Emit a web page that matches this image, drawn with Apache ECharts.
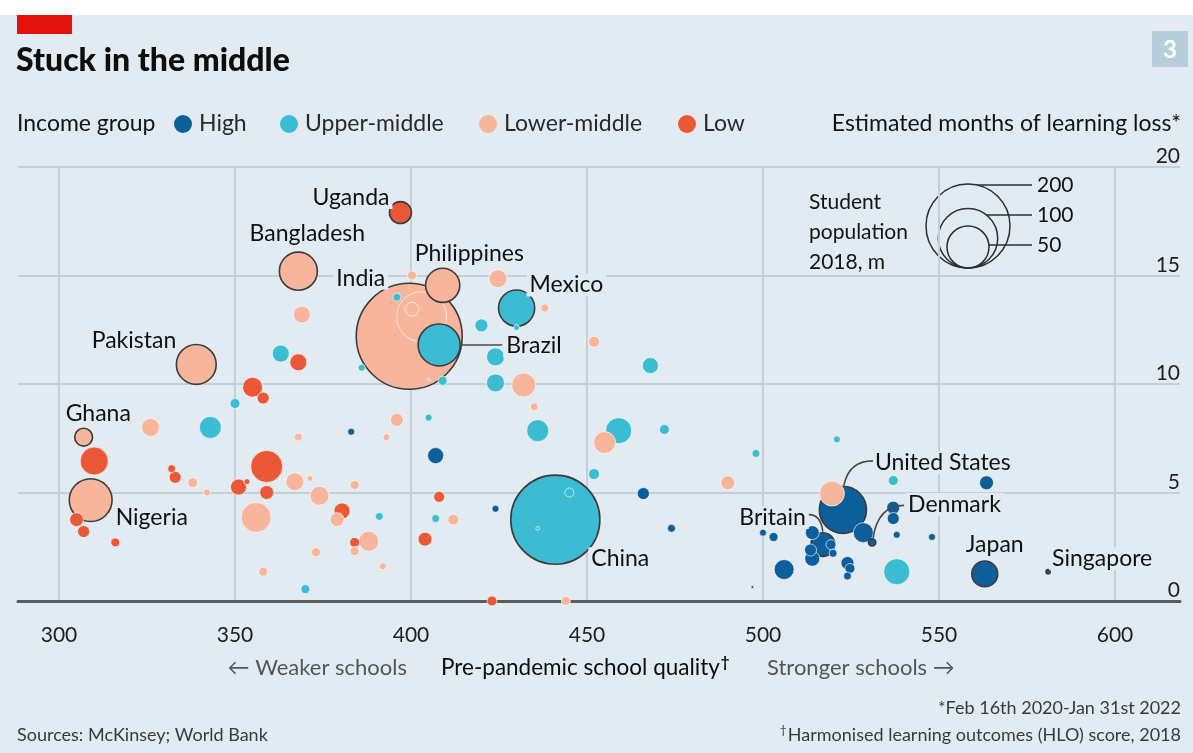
<!DOCTYPE html>
<html><head><meta charset="utf-8">
<script src="https://cdn.jsdelivr.net/npm/echarts@6/dist/echarts.min.js"></script>
<style>html,body{margin:0;padding:0;background:#e2ebf2}#c{width:1193px;height:753px}</style>
</head><body><div id="c"></div>
<script>
const FONT = 'Lato, "Noto Sans", sans-serif';
const groupNames = ['High', 'Upper-middle', 'Lower-middle', 'Low'];
const groupColors = ['#0d5f9c', '#3cbcd2', '#f7b59b', '#ea5838'];
// [HLO score, estimated months of learning loss, student population 2018 (m), label]
const highIncome = [
  [522.7, 4.2, 63, 'United States'], [517, 2.6, 16, 'Britain'], [531, 2.7, 1.5, 'Denmark'],
  [563, 1.25, 19, 'Japan'], [581, 1.35, 0.5, 'Singapore'],
  [383, 7.8, 1.4], [407, 6.7, 7.3], [424, 4.25, 1.4], [466, 4.95, 4.1], [474, 3.35, 1.8],
  [500, 3.15, 1.4], [503, 2.95, 2.3], [506, 1.45, 11.3], [514, 3.15, 5.5], [513.5, 2.35, 4.1],
  [519.3, 2.6, 2.8], [519.9, 2.2, 1.8], [514, 1.95, 6.4], [524, 1.75, 4.8], [524.7, 1.5, 2.8],
  [524, 1.15, 1.8], [528.5, 3.15, 11.3], [537, 4.3, 4.8], [537, 3.8, 4.1], [538, 3.05, 1.4],
  [548, 2.95, 1.4], [563.5, 5.45, 5.5], [497, 0.65, 0.2]
];
const upperMiddle = [
  [408, 11.8, 50, 'Brazil'], [430, 13.5, 37, 'Mexico'], [441, 3.75, 225, 'China'],
  [396, 14.0, 1.8], [363, 11.4, 8.2], [350, 9.1, 2.8], [343, 8.0, 13.7], [386, 10.75, 1.4],
  [409, 10.15, 2.3], [405, 8.45, 1.4], [420, 12.7, 4.8], [430, 12.6, 1.0], [424, 11.25, 9.2],
  [424, 10.05, 9.2], [468, 10.85, 7.3], [436, 7.85, 13.7], [459, 7.85, 19.2], [472, 7.9, 2.8],
  [452, 5.85, 3.4], [498, 6.8, 1.8], [521, 7.45, 1.4], [537, 5.55, 2.8], [538, 1.35, 19.2],
  [391, 3.9, 1.8], [407, 3.8, 1.8], [370, 0.55, 2.3], [445, 5.0, 2.3], [436, 3.35, 0.4]
];
const lowerMiddle = [
  [399.5, 12.2, 318, 'India'], [368, 15.2, 41, 'Bangladesh'], [409, 14.55, 33, 'Philippines'],
  [339, 10.9, 45, 'Pakistan'], [307, 7.55, 9, 'Ghana'], [309, 4.65, 52, 'Nigeria'],
  [403, 13.1, 71], [400.3, 13.45, 5.5], [405, 10.2, 0.3], [369, 13.2, 8.2], [400.3, 15.0, 2.3],
  [424.7, 14.85, 9.2], [438, 13.5, 1.8], [452, 11.95, 3.4], [432, 9.95, 16.3], [435, 8.95, 1.8],
  [455, 7.3, 13.7], [490, 5.45, 5.5], [519.6, 4.95, 17.7], [326, 8.0, 9.2], [338, 5.45, 2.8],
  [342, 5.0, 1.4], [368, 7.55, 1.8], [367, 5.5, 9.2], [371.3, 5.65, 1.0], [374, 4.85, 10.2],
  [384, 5.35, 2.3], [379, 3.75, 5.5], [396, 8.35, 4.8], [393, 7.55, 1.4], [356, 3.85, 25.5],
  [412, 3.75, 3.4], [388, 2.75, 11.3], [384, 2.3, 2.3], [373, 2.25, 2.3], [392, 1.6, 1.4],
  [358, 1.35, 2.3], [444, 0, 2.3]
];
const lowIncome = [
  [397, 17.9, 13.7, 'Uganda'], [368, 11.0, 8.2], [355, 9.85, 11.3], [358, 9.35, 4.1],
  [310, 6.45, 22.2], [332, 6.1, 1.8], [333, 5.7, 4.1], [359, 6.2, 29], [351, 5.25, 7.3],
  [353.4, 5.5, 1.0], [359, 5.0, 5.5], [380.4, 4.15, 7.3], [408, 4.8, 3.4], [384, 2.7, 2.8],
  [404, 2.85, 5.5], [305, 3.75, 5.5], [307, 3.2, 4.1], [316, 2.7, 2.3], [423, 0, 2.8]
];
const xTicks = { min: 300, max: 600, step: 50 };
const yTicks = { min: 0, max: 20, step: 5 };
const sizeLegendValues = [200, 100, 50];

// label placement (pixels relative to bubble centre)
const labelPlacement = {
  'Uganda': { align: 'right', offset: [-8, -15] },
  'Bangladesh': { align: 'center', offset: [9, -38] },
  'India': { align: 'right', offset: [-21, -58] },
  'Philippines': { align: 'left', offset: [-31, -32] },
  'Mexico': { align: 'left', offset: [10, -23] },
  'Brazil': { align: 'left', offset: [64, 1] },
  'Pakistan': { align: 'right', offset: [-17, -24] },
  'Ghana': { align: 'left', offset: [-21, -24] },
  'Nigeria': { align: 'left', offset: [22, 17] },
  'China': { align: 'left', offset: [33, 39] },
  'United States': { align: 'left', offset: [29, -47] },
  'Denmark': { align: 'left', offset: [33, -38] },
  'Britain': { align: 'right', offset: [-14, -27] },
  'Japan': { align: 'center', offset: [10, -29] },
  'Singapore': { align: 'left', offset: [1, -13] }
};

const BG = '#e2ebf2';
const GRID = '#c5cfd8';
const sizeOf = p => Math.max(3, 5.94 * Math.sqrt(p));

const sets = [highIncome, upperMiddle, lowerMiddle, lowIncome];
const all = [];
sets.forEach((s, gi) => s.forEach(d => all.push({ v: [d[0], d[1], d[2]], name: d[3] || '', g: gi })));
all.sort((a, b) => b.v[2] - a.v[2]);
const seriesData = all.map(d => {
  const labeled = !!d.name;
  const item = {
    name: d.name, value: d.v,
    itemStyle: {
      color: groupColors[d.g], opacity: 1,
      borderColor: labeled ? '#3c3c3c' : 'rgba(255,255,255,0.8)',
      borderWidth: labeled ? 1.6 : 0.8
    }
  };
  if (labeled) {
    const p = labelPlacement[d.name];
    item.label = {
      show: true, position: 'inside', formatter: '{b}', align: p.align, verticalAlign: 'middle',
      offset: p.offset, fontFamily: FONT, fontSize: 23, color: '#111111',
      backgroundColor: BG, padding: [0, 3]
    };
  }
  return item;
});

const chart = echarts.init(document.getElementById('c'), null, { renderer: 'canvas' });

function txt(text, x, y, opts) {
  return {
    type: 'text', x: x, y: y,
    style: Object.assign({ text: text, fontFamily: FONT, fontSize: 22, fill: '#141414',
      textAlign: 'left', textVerticalAlign: 'middle', align: 'left', verticalAlign: 'middle' }, opts || {})
  };
}

const graphics = [
  { type: 'rect', shape: { x: 0, y: 0, width: 1193, height: 15 }, style: { fill: '#ffffff' }, z: -10 },
  { type: 'rect', shape: { x: 17, y: 15, width: 55, height: 19 }, style: { fill: '#e3120b' } },
  txt('Stuck in the middle', 16, 61, { fontSize: 32, fontWeight: 900, fill: '#0d0d0d' }),
  { type: 'rect', shape: { x: 1152, y: 31, width: 36, height: 36 }, style: { fill: '#b6cddb' } },
  txt('3', 1170, 50, { fontSize: 24, fontWeight: 'bold', fill: '#ffffff', textAlign: 'center', align: 'center' }),
  txt('Income group', 17, 124, { fontSize: 23 }),
  txt('Estimated months of learning loss*', 1181, 124, { fontSize: 23, textAlign: 'right', align: 'right' })
];
const legendPos = [183, 289, 488, 687];
groupNames.forEach((g, i) => {
  graphics.push({ type: 'circle', shape: { cx: legendPos[i], cy: 124, r: 9 }, style: { fill: groupColors[i] } });
  graphics.push(txt(g, legendPos[i] + 16, 124, { fontSize: 23, fill: '#2a2a2a' }));
});
// size legend
const slCx = 968, slBottom = 268;
const slLabelY = [185, 215, 245];
sizeLegendValues.forEach((v, i) => {
  const r = sizeOf(v) / 2;
  const cy = slBottom - r;
  graphics.push({ type: 'circle', shape: { cx: slCx, cy: cy, r: r }, style: { fill: 'none', stroke: '#2e2e2e', lineWidth: 1.5 } });
  const dy = slLabelY[i] - cy;
  const x0 = slCx + Math.sqrt(Math.max(0, r * r - dy * dy));
  graphics.push({ type: 'line', shape: { x1: x0, y1: slLabelY[i], x2: 1032, y2: slLabelY[i] }, style: { stroke: '#2e2e2e', lineWidth: 1.5 } });
  graphics.push(txt(String(v), 1037, slLabelY[i], { fontSize: 21 }));
});
graphics.push(txt('Student', 809, 202, { fontSize: 21 }));
graphics.push(txt('population', 809, 232, { fontSize: 21 }));
graphics.push(txt('2018, m', 809, 262, { fontSize: 21 }));
// axis title row
graphics.push(txt('\u2190 Weaker schools', 407, 668, { fontSize: 22, fill: '#555', textAlign: 'right', align: 'right' }));
graphics.push(txt('{a|Pre-pandemic school quality}{s|\u2020}', 441, 668, { fontSize: 22, fill: '#0d0d0d',
  rich: { a: { fontFamily: FONT, fontSize: 22.5, fill: '#0d0d0d', color: '#0d0d0d' },
          s: { fontFamily: FONT, fontSize: 15, fontWeight: 'bold', verticalAlign: 'top', padding: [0, 0, 12, 1], fill: '#0d0d0d', color: '#0d0d0d' } } }));
graphics.push(txt('Stronger schools \u2192', 767, 668, { fontSize: 22, fill: '#555' }));
// footer
graphics.push(txt('Sources: McKinsey; World Bank', 17, 735, { fontSize: 18, fill: '#3a3a3a' }));
graphics.push(txt('*Feb 16th 2020-Jan 31st 2022', 1181, 708, { fontSize: 18, fill: '#3a3a3a', textAlign: 'right', align: 'right' }));
graphics.push(txt('{s|\u2020}{a|Harmonised learning outcomes (HLO) score, 2018}', 1181, 735, { fontSize: 18, fill: '#3a3a3a', textAlign: 'right', align: 'right',
  rich: { a: { fontFamily: FONT, fontSize: 18, fill: '#3a3a3a', color: '#3a3a3a' },
          s: { fontFamily: FONT, fontSize: 12, padding: [0, 1, 10, 0], fill: '#3a3a3a', color: '#3a3a3a' } } }));

const option = {
  backgroundColor: BG,
  animation: false,
  textStyle: { fontFamily: FONT },
  grid: [
    { left: 18, right: 13, top: 167, bottom: 152 },
    { left: 59, right: 78, top: 167, bottom: 152 }
  ],
  xAxis: [
    { gridIndex: 0, type: 'value', min: 0, max: 1, axisLabel: { show: false }, axisTick: { show: false },
      splitLine: { show: false }, axisLine: { show: true, lineStyle: { color: '#5b5b5b', width: 3 } } },
    { gridIndex: 1, type: 'value', min: xTicks.min, max: xTicks.max, interval: xTicks.step,
      axisLine: { show: false }, axisTick: { show: false },
      splitLine: { show: true, lineStyle: { color: GRID, width: 2 } },
      axisLabel: { fontSize: 21, color: '#1e1e1e', margin: 24, fontFamily: FONT } }
  ],
  yAxis: [
    { gridIndex: 0, type: 'value', position: 'right', min: yTicks.min, max: yTicks.max, interval: yTicks.step,
      axisLine: { show: false }, axisTick: { show: false },
      splitLine: { show: true, lineStyle: { color: GRID, width: 2 } },
      axisLabel: { inside: true, fontSize: 21, color: '#1e1e1e', verticalAlign: 'bottom', margin: 0,
        padding: [0, 0, 0, 0], fontFamily: FONT } },
    { gridIndex: 1, type: 'value', min: yTicks.min, max: yTicks.max, show: false }
  ],
  series: [{
    type: 'scatter', xAxisIndex: 1, yAxisIndex: 1, clip: false,
    symbolSize: v => sizeOf(v[2]),
    data: seriesData,
    emphasis: { disabled: true }
  }],
  graphic: graphics
};
chart.setOption(option);

// leader lines computed from the chart's own scale
function px(name) {
  const d = all.find(a => a.name === name);
  return { p: chart.convertToPixel({ gridIndex: 1 }, [d.v[0], d.v[1]]), r: sizeOf(d.v[2]) / 2 };
}
const lines = [];
let b = px('Brazil');
lines.push({ type: 'line', shape: { x1: b.p[0] + b.r, y1: b.p[1], x2: b.p[0] + 63, y2: b.p[1] } });
let u = px('United States');
lines.push({ type: 'bezierCurve', shape: { x1: u.p[0] + 30, y1: u.p[1] - 49, cpx1: u.p[0] + 6, cpy1: u.p[1] - 49, x2: u.p[0] + 1, y2: u.p[1] - u.r - 1 } });
let dk = px('Denmark');
lines.push({ type: 'bezierCurve', shape: { x1: dk.p[0] + 32, y1: dk.p[1] - 37, cpx1: dk.p[0] + 6, cpy1: dk.p[1] - 37, x2: dk.p[0] + 1, y2: dk.p[1] - dk.r - 1 } });
let br = px('Britain');
lines.push({ type: 'bezierCurve', shape: { x1: br.p[0] - 14, y1: br.p[1] - 30, cpx1: br.p[0] - 2, cpy1: br.p[1] - 30, x2: br.p[0], y2: br.p[1] - br.r - 1 } });
lines.forEach(l => { l.style = { stroke: '#4a4a4a', lineWidth: 1.6, fill: 'none' }; l.z = 5; });
chart.setOption({ graphic: graphics.concat(lines) });
</script></body></html>
